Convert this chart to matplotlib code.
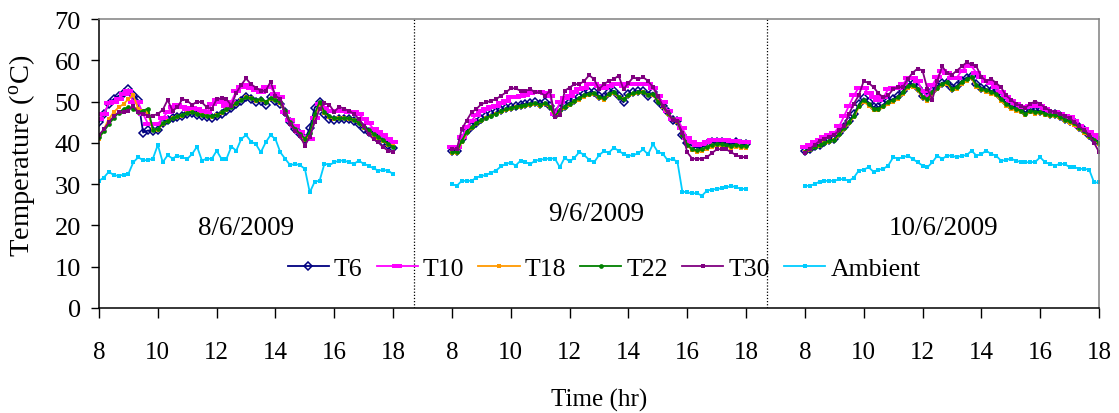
import numpy as np
import matplotlib
matplotlib.use("Agg")
import matplotlib.pyplot as plt

plt.rcParams['font.family'] = ['Liberation Serif', 'DejaVu Serif']
plt.rcParams['mathtext.fontset'] = 'custom'
plt.rcParams['mathtext.rm'] = 'Liberation Serif'

# Readings every 10 minutes, 08:00 - 18:00, for each day
t6_day1 = [45.0, 47.0, 49.4, 50.6, 51.4, 52.0, 53.0, 51.5, 50.3, 42.5,
           43.0, 42.8, 43.2, 44.8, 45.5, 46.0, 46.3, 46.5, 47.0, 47.3,
           46.8, 46.5, 46.3, 46.0, 46.5, 47.0, 47.8, 48.5, 49.4, 50.2,
           51.0, 50.6, 49.8, 50.2, 49.2, 51.0, 50.2, 49.4, 47.4, 45.0,
           43.4, 42.1, 40.9, 43.5, 48.5, 50.0, 47.0, 45.8, 45.5, 45.8,
           45.8, 45.8, 45.4, 44.6, 43.4, 42.6, 41.8, 41.0, 40.2, 39.4, 38.8]
t10_day1 = [45.8, 47.0, 49.6, 49.8, 50.6, 51.8, 52.6, 49.8, 49.8, 47.0,
            44.6, 44.6, 44.6, 46.0, 47.5, 48.8, 49.2, 48.8, 48.3, 48.5,
            48.2, 47.8, 47.4, 49.5, 50.5, 50.0, 49.0, 50.0, 52.5, 53.5,
            54.0, 53.2, 52.8, 52.3, 53.5, 53.5, 51.8, 51.0, 47.5, 45.5,
            44.2, 42.7, 41.5, 41.0, 46.0, 49.5, 48.5, 47.8, 47.6, 47.6,
            47.6, 47.4, 47.4, 46.9, 45.8, 44.8, 43.4, 42.6, 41.8, 41.0, 40.2]
t18_day1 = [40.9, 43.3, 45.8, 47.4, 48.6, 49.4, 50.6, 51.5, 48.2, 47.8,
            47.5, 43.0, 43.2, 44.6, 45.3, 45.9, 46.3, 46.6, 47.2, 47.4,
            47.0, 46.7, 46.5, 46.3, 46.7, 47.3, 48.0, 48.6, 49.5, 50.3,
            51.0, 50.8, 50.2, 50.5, 49.8, 50.6, 50.3, 49.6, 47.5, 44.8,
            43.2, 42.0, 40.8, 42.0, 46.5, 49.5, 47.2, 46.2, 45.8, 45.9,
            45.9, 45.8, 45.5, 44.8, 43.7, 42.8, 42.0, 41.2, 40.4, 39.6, 39.2]
t22_day1 = [41.3, 42.8, 44.5, 46.0, 47.3, 48.2, 48.6, 48.3, 47.4, 47.8,
            48.3, 43.2, 43.4, 44.7, 45.4, 46.0, 46.4, 46.8, 47.3, 47.5,
            47.1, 46.8, 46.6, 46.4, 46.8, 47.4, 48.1, 48.8, 49.6, 50.4,
            51.0, 50.9, 50.4, 50.6, 50.0, 50.8, 50.4, 49.8, 47.8, 45.0,
            43.4, 42.2, 41.0, 42.5, 47.0, 50.0, 47.4, 46.4, 46.0, 46.0,
            46.0, 45.9, 45.6, 44.9, 43.9, 43.0, 42.2, 41.4, 40.6, 39.8, 39.0]
t30_day1 = [41.9, 43.3, 45.0, 46.4, 47.4, 47.5, 47.8, 49.0, 47.4, 47.0,
            46.6, 46.6, 47.0, 48.0, 50.4, 47.8, 48.6, 50.6, 50.2, 49.2,
            50.0, 49.8, 48.6, 48.2, 50.6, 50.8, 50.6, 49.0, 52.1, 54.0,
            55.6, 54.2, 53.4, 52.6, 52.6, 54.8, 51.4, 50.6, 47.0, 44.6,
            42.9, 41.7, 39.3, 41.5, 45.0, 48.2, 49.6, 49.2, 47.5, 48.8,
            48.2, 47.8, 47.0, 45.8, 44.1, 42.1, 40.9, 40.1, 38.9, 38.1, 37.7]
amb_day1 = [30.8, 31.6, 33.0, 32.2, 32.0, 32.3, 32.5, 35.3, 36.5, 35.8,
            35.8, 36.2, 39.5, 35.3, 37.0, 36.2, 36.9, 36.5, 36.1, 37.3,
            39.1, 35.7, 36.2, 36.1, 38.1, 36.1, 36.1, 39.1, 38.1, 40.9,
            41.9, 40.3, 39.7, 37.7, 40.1, 41.9, 40.9, 37.7, 36.1, 34.6,
            34.9, 34.6, 33.7, 28.0, 30.6, 30.8, 35.0, 34.6, 35.3, 35.7,
            35.7, 35.3, 34.9, 35.7, 34.9, 34.5, 33.8, 33.3, 33.4, 33.3, 32.4]

t6_day2 = [38.1, 38.1, 40.9, 42.9, 44.1, 44.9, 45.8, 46.4, 46.9, 47.4,
           48.0, 48.4, 48.6, 49.0, 49.2, 49.4, 49.6, 49.8, 49.4, 49.8,
           49.0, 47.0, 48.2, 49.0, 49.8, 50.4, 51.0, 51.8, 52.2, 52.2,
           51.4, 51.0, 52.2, 52.6, 51.4, 49.8, 51.8, 52.2, 52.6, 52.6,
           51.4, 52.2, 50.2, 49.0, 47.5, 45.5, 45.4, 42.0, 40.0, 39.3,
           38.8, 39.0, 39.7, 40.2, 40.3, 40.2, 39.7, 39.7, 40.2, 39.7, 39.8]
t10_day2 = [38.9, 38.9, 41.3, 43.8, 45.4, 46.8, 47.6, 48.2, 48.6, 49.0,
            49.6, 50.2, 51.0, 51.2, 51.4, 51.6, 52.0, 52.2, 52.2, 52.0,
            51.4, 47.0, 49.8, 50.8, 51.4, 52.2, 53.0, 53.4, 54.2, 54.2,
            53.8, 53.4, 53.8, 54.2, 54.2, 53.8, 54.2, 54.2, 54.2, 54.2,
            54.2, 53.4, 51.4, 49.8, 47.8, 45.8, 45.8, 43.5, 41.2, 40.2,
            39.6, 39.8, 40.2, 40.6, 40.6, 40.6, 40.6, 40.4, 40.4, 40.2, 40.2]
t18_day2 = [37.6, 37.6, 40.2, 42.3, 43.6, 44.5, 45.3, 45.9, 46.4, 46.9,
            47.5, 47.9, 48.2, 48.6, 48.8, 49.0, 49.2, 49.3, 49.0, 49.3,
            48.6, 46.4, 47.6, 48.5, 49.2, 49.8, 50.5, 51.2, 51.6, 51.8,
            50.8, 50.5, 51.6, 52.0, 51.0, 50.6, 51.3, 51.8, 52.0, 52.2,
            51.6, 51.6, 50.2, 48.8, 47.0, 45.6, 45.0, 42.2, 39.4, 38.2,
            37.8, 38.0, 38.6, 39.0, 39.2, 39.2, 39.0, 38.8, 39.0, 38.8, 38.8]
t22_day2 = [37.8, 37.8, 40.5, 42.6, 43.8, 44.7, 45.5, 46.1, 46.6, 47.1,
            47.7, 48.1, 48.4, 48.8, 49.0, 49.2, 49.4, 49.6, 49.2, 49.6,
            48.8, 46.5, 47.9, 48.8, 49.5, 50.1, 50.8, 51.5, 51.9, 52.0,
            51.1, 50.8, 51.9, 52.3, 51.2, 50.6, 51.6, 52.0, 52.3, 52.4,
            51.6, 51.9, 50.0, 48.9, 47.2, 45.7, 45.2, 42.0, 39.6, 38.5,
            38.2, 38.4, 39.0, 39.5, 39.7, 39.7, 39.4, 39.3, 39.6, 39.2, 39.3]
t30_day2 = [38.5, 38.5, 43.3, 45.4, 47.4, 48.2, 49.4, 49.8, 50.2, 50.6,
            51.4, 52.2, 53.2, 53.2, 52.6, 52.6, 53.0, 52.2, 52.2, 51.4,
            52.6, 46.3, 46.7, 52.6, 53.4, 54.2, 54.2, 55.0, 56.4, 55.4,
            53.0, 54.2, 55.0, 55.4, 56.3, 53.0, 54.5, 55.9, 55.4, 55.9,
            55.0, 53.5, 51.4, 49.0, 47.4, 45.6, 45.2, 42.5, 37.7, 36.2,
            36.1, 36.2, 36.5, 37.5, 38.4, 38.5, 38.4, 37.7, 37.0, 36.6, 36.5]
amb_day2 = [30.0, 29.6, 30.8, 30.8, 30.8, 31.6, 32.0, 32.2, 32.8, 33.3,
            34.3, 34.9, 35.2, 34.5, 35.7, 35.3, 34.9, 35.7, 35.9, 36.1,
            36.2, 36.2, 34.1, 36.4, 35.5, 36.4, 37.8, 37.0, 35.9, 35.3,
            37.0, 38.0, 37.6, 38.8, 38.1, 37.3, 36.9, 37.0, 37.5, 38.4,
            37.2, 39.7, 37.8, 37.4, 35.8, 36.1, 35.4, 28.2, 28.0, 27.8,
            27.8, 27.2, 28.4, 28.7, 28.8, 29.0, 29.2, 29.6, 29.2, 28.9, 28.8]

t6_day3 = [38.1, 38.6, 39.2, 39.6, 40.2, 40.7, 41.0, 42.5, 43.9, 45.3,
           46.9, 49.3, 50.8, 49.8, 48.6, 48.6, 49.3, 50.2, 50.6, 51.4,
           52.6, 54.2, 54.2, 53.4, 51.4, 51.0, 52.6, 53.8, 54.6, 54.6,
           53.4, 53.8, 55.0, 55.8, 56.2, 54.2, 53.4, 53.0, 52.6, 52.2,
           51.0, 49.8, 49.0, 48.6, 48.1, 47.4, 48.2, 47.8, 47.8, 47.4,
           47.0, 47.0, 46.6, 45.8, 45.4, 45.0, 43.8, 43.0, 41.8, 41.0, 40.2]
t10_day3 = [39.0, 39.6, 40.2, 40.8, 41.4, 41.8, 42.4, 44.0, 46.5, 49.0,
            51.5, 53.4, 53.4, 52.0, 51.0, 50.5, 51.0, 53.0, 53.4, 53.4,
            54.2, 55.8, 55.8, 55.0, 52.5, 51.0, 54.0, 56.0, 57.4, 57.0,
            55.8, 55.8, 57.5, 58.5, 58.5, 57.0, 56.0, 55.0, 54.6, 53.5,
            52.2, 51.0, 50.2, 49.4, 48.6, 48.6, 49.0, 49.4, 49.0, 48.2,
            47.4, 47.4, 47.0, 46.6, 46.2, 45.4, 44.1, 43.4, 42.6, 41.8, 41.2]
t18_day3 = [37.8, 38.3, 38.9, 39.3, 39.9, 40.3, 40.6, 41.9, 43.3, 44.7,
            46.3, 48.6, 50.0, 49.0, 48.0, 47.9, 48.6, 49.4, 49.9, 50.6,
            51.8, 53.4, 53.6, 52.8, 50.8, 50.2, 51.8, 53.0, 53.9, 54.3,
            52.8, 53.1, 54.3, 55.0, 55.6, 53.6, 52.8, 52.3, 51.9, 51.5,
            50.2, 49.0, 48.3, 47.8, 47.4, 46.8, 47.4, 47.1, 47.2, 46.8,
            46.4, 46.4, 46.0, 45.3, 44.9, 44.3, 43.3, 42.5, 41.3, 40.5, 39.8]
t22_day3 = [37.9, 38.5, 39.0, 39.5, 40.0, 40.5, 40.8, 42.2, 43.6, 45.0,
            46.6, 49.0, 50.5, 49.4, 48.3, 48.3, 49.0, 49.9, 50.3, 51.0,
            52.2, 53.8, 53.9, 53.1, 51.1, 50.6, 52.2, 53.4, 54.3, 54.7,
            53.1, 53.5, 54.7, 55.4, 55.9, 54.0, 53.1, 52.7, 52.3, 51.8,
            50.6, 49.5, 48.7, 48.3, 47.8, 47.1, 47.8, 47.5, 47.5, 47.1,
            46.8, 46.8, 46.3, 45.6, 45.2, 44.7, 43.6, 42.8, 41.6, 40.8, 40.0]
t30_day3 = [37.5, 38.5, 39.5, 40.5, 41.0, 41.5, 42.0, 43.0, 44.0, 47.0,
            49.5, 51.5, 55.0, 54.5, 53.5, 52.0, 51.0, 51.5, 53.0, 53.5,
            53.5, 55.5, 57.0, 58.0, 57.5, 53.0, 50.5, 55.0, 58.5, 57.0,
            56.5, 57.5, 58.5, 59.5, 59.0, 58.5, 56.0, 55.0, 55.5, 54.5,
            53.5, 51.5, 50.5, 49.5, 49.0, 48.5, 49.5, 50.0, 49.5, 48.5,
            47.8, 47.5, 47.0, 46.5, 46.0, 45.0, 44.0, 43.0, 42.0, 40.0, 37.8]
amb_day3 = [29.6, 29.6, 30.0, 30.6, 30.8, 30.8, 30.8, 31.2, 31.2, 30.8,
            31.6, 33.3, 33.5, 34.1, 33.0, 33.5, 33.7, 34.5, 36.5, 36.2,
            36.5, 36.9, 36.1, 35.3, 34.5, 34.1, 35.3, 36.9, 36.1, 36.9,
            36.9, 36.5, 36.9, 37.0, 38.1, 36.9, 37.3, 38.1, 37.3, 36.9,
            35.7, 35.8, 36.2, 35.7, 35.4, 35.3, 35.3, 35.4, 36.5, 35.3,
            34.9, 34.5, 34.9, 34.9, 34.1, 34.1, 33.7, 33.7, 33.5, 30.4, 30.4]

day_labels = ["8/6/2009", "9/6/2009", "10/6/2009"]
hour_ticks = [8, 10, 12, 14, 16, 18]
series_names = ["T6", "T10", "T18", "T22", "T30", "Ambient"]

series = {
    "T6": [t6_day1, t6_day2, t6_day3],
    "T10": [t10_day1, t10_day2, t10_day3],
    "T18": [t18_day1, t18_day2, t18_day3],
    "T22": [t22_day1, t22_day2, t22_day3],
    "T30": [t30_day1, t30_day2, t30_day3],
    "Ambient": [amb_day1, amb_day2, amb_day3],
}

# each day occupies 8..18 h, the next day starts 2 h (one tick) later
day_offset = 12.0
rect = [(-1, -0.45), (1, -0.45), (1, 0.45), (-1, 0.45), (-1, -0.45)]
styles = {
    "T6": dict(color="#000080", marker="D", ms=4.4, mfc="none", mew=1.1),
    "T10": dict(color="#FF00FF", marker=rect, ms=6.5, mfc="#FF00FF", mew=0),
    "T18": dict(color="#FF9900", marker="s", ms=2.8, mfc="#FF9900", mew=0),
    "T22": dict(color="#008000", marker="o", ms=3.4, mfc="#008000", mew=0),
    "T30": dict(color="#800080", marker="s", ms=3.4, mfc="#800080", mew=0),
    "Ambient": dict(color="#00CCFF", marker="s", ms=2.4, mfc="#00CCFF", mew=0),
}

fig = plt.figure(figsize=(11.19, 4.14), dpi=100)
ax = fig.add_axes([99 / 1119, 1 - 309 / 414, 1000 / 1119, 289 / 414])

for name in series_names:
    xs, ys = [], []
    for d, vals in enumerate(series[name]):
        vals = np.asarray(vals, dtype=float)
        hours = 8 + np.arange(len(vals)) / 6.0
        xs.append(hours + d * day_offset)
        ys.append(vals)
        xs.append([np.nan])
        ys.append([np.nan])
    st = styles[name]
    ax.plot(np.concatenate(xs), np.concatenate(ys), lw=1.3, label=name,
            color=st["color"], marker=st["marker"], markersize=st["ms"],
            markerfacecolor=st["mfc"], markeredgecolor=st["color"],
            markeredgewidth=st["mew"])

# day separators
for xsep in (18.7, 30.7):
    ax.axvline(xsep, color="black", lw=0.9, ls=(0, (1, 1.5)), zorder=1)

ax.set_xlim(8, 42)
ax.set_ylim(0, 70)
ax.set_yticks(np.arange(0, 71, 10))
xt = [h + d * day_offset for d in range(3) for h in hour_ticks]
ax.set_xticks(xt)
ax.set_xticklabels([str(h) for d in range(3) for h in hour_ticks])

ax.tick_params(axis="x", direction="out", length=7, width=1, pad=17,
               labelsize=18)
ax.tick_params(axis="y", direction="out", length=6, width=1, pad=7,
               labelsize=19)

for s in ("left", "bottom"):
    ax.spines[s].set_color("black")
    ax.spines[s].set_linewidth(1.1)
for s in ("top", "right"):
    ax.spines[s].set_color("#808080")
    ax.spines[s].set_linewidth(1.1)

ax.set_xlabel("Time (hr)", fontsize=18)
ax.xaxis.set_label_coords(0.5, -0.275)
ax.set_ylabel(r"Temperature ($\mathregular{^{o}}$C)", fontsize=20.5)
ax.yaxis.set_label_coords(-0.062, 0.53)

day_pos = [(13.0, 19.4), (24.9, 23.0), (36.7, 19.4)]
for (x, y), lab in zip(day_pos, day_labels):
    ax.text(x, y, lab, ha="center", va="center", fontsize=19.5)

leg = ax.legend(loc="center", bbox_to_anchor=(0.505, 0.135), ncol=6,
                frameon=False, fontsize=18.5, handlelength=1.6,
                handletextpad=0.2, columnspacing=0.55, borderpad=0)

fig.savefig("out.png", dpi=100)
